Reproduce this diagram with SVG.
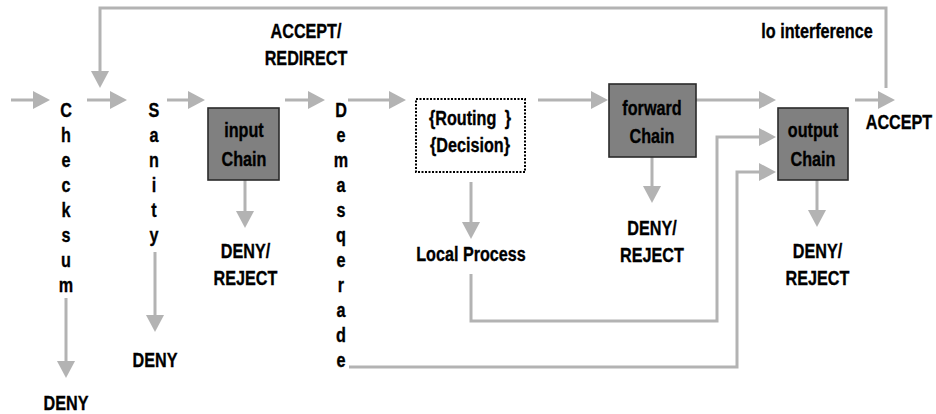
<svg xmlns="http://www.w3.org/2000/svg" width="936" height="414" viewBox="0 0 936 414">
<style>
.t{font-family:"Liberation Sans",Arial,sans-serif;font-weight:bold;font-size:21px;fill:#000;stroke:#000;stroke-width:0.35;text-anchor:middle}
.c{fill:none;stroke:#b3b3b3;stroke-width:3}
.box{fill:#808080;stroke:#2a2a2a;stroke-width:1.6}
.dot{fill:#fff;stroke:#000;stroke-width:2;stroke-dasharray:2 1.5}
</style>
<defs>
<marker id="ah" viewBox="0 0 17 18" refX="11" refY="9" markerWidth="17" markerHeight="18" markerUnits="userSpaceOnUse" orient="auto">
<path d="M0,0 L17,9 L0,18 z" fill="#b3b3b3"/>
</marker>
</defs>
<rect width="936" height="414" fill="#fff"/>
<g id="connectors">
<path class="c" d="M11,100 H44" marker-end="url(#ah)"/>
<path class="c" d="M87,100 H121" marker-end="url(#ah)"/>
<path class="c" d="M167,100 H199" marker-end="url(#ah)"/>
<path class="c" d="M285,100 H319" marker-end="url(#ah)"/>
<path class="c" d="M348,100 H400" marker-end="url(#ah)"/>
<path class="c" d="M538,100 H602" marker-end="url(#ah)"/>
<path class="c" d="M696,100 H770" marker-end="url(#ah)"/>
<path class="c" d="M855,100 H889" marker-end="url(#ah)"/>
<path class="c" d="M886,88 V8 H100 V82" marker-end="url(#ah)"/>
<path class="c" d="M245,180 V222" marker-end="url(#ah)"/>
<path class="c" d="M471,182 V233" marker-end="url(#ah)"/>
<path class="c" d="M652,157 V197" marker-end="url(#ah)"/>
<path class="c" d="M817,180 V221" marker-end="url(#ah)"/>
<path class="c" d="M66,298 V372" marker-end="url(#ah)"/>
<path class="c" d="M155,252 V326" marker-end="url(#ah)"/>
<path class="c" d="M471,274 V321 H717 V137 H770" marker-end="url(#ah)"/>
<path class="c" d="M349,367 H737 V172 H770" marker-end="url(#ah)"/>
</g>
<g id="checksum">
<text class="t" transform="translate(66 0) scale(0.77 1)"><tspan x="0" y="117">C</tspan><tspan x="0" y="142">h</tspan><tspan x="0" y="167">e</tspan><tspan x="0" y="192">c</tspan><tspan x="0" y="217">k</tspan><tspan x="0" y="242">s</tspan><tspan x="0" y="267">u</tspan><tspan x="0" y="292">m</tspan></text>
</g>
<g id="checksum-deny">
<text class="t" transform="translate(66 410) scale(0.77 1)">DENY</text>
</g>
<g id="sanity">
<text class="t" transform="translate(154 0) scale(0.77 1)"><tspan x="0" y="117">S</tspan><tspan x="0" y="142">a</tspan><tspan x="0" y="167">n</tspan><tspan x="0" y="192">i</tspan><tspan x="0" y="217">t</tspan><tspan x="0" y="242">y</tspan></text>
</g>
<g id="sanity-deny">
<text class="t" transform="translate(155 367) scale(0.77 1)">DENY</text>
</g>
<g id="input-chain">
<rect class="box" x="208" y="108" width="71" height="72"/>
<text class="t" transform="translate(244 0) scale(0.77 1)"><tspan x="0" y="137">input</tspan><tspan x="0" y="166">Chain</tspan></text>
</g>
<g id="input-deny">
<text class="t" transform="translate(245.5 0) scale(0.77 1)"><tspan x="0" y="258">DENY/</tspan><tspan x="0" y="285">REJECT</tspan></text>
</g>
<g id="accept-redirect">
<text class="t" transform="translate(306 0) scale(0.77 1)"><tspan x="0" y="38">ACCEPT/</tspan><tspan x="0" y="65">REDIRECT</tspan></text>
</g>
<g id="demasquerade">
<text class="t" transform="translate(341 0) scale(0.77 1)"><tspan x="0" y="117">D</tspan><tspan x="0" y="142">e</tspan><tspan x="0" y="167">m</tspan><tspan x="0" y="192">a</tspan><tspan x="0" y="217">s</tspan><tspan x="0" y="242">q</tspan><tspan x="0" y="267">e</tspan><tspan x="0" y="292">r</tspan><tspan x="0" y="317">a</tspan><tspan x="0" y="342">d</tspan><tspan x="0" y="367">e</tspan></text>
</g>
<g id="routing-decision">
<rect class="dot" x="416" y="99" width="109" height="73"/>
<text class="t" transform="translate(470 0) scale(0.77 1)"><tspan x="0" y="125">{Routing <tspan dx="5">}</tspan></tspan><tspan x="0" y="152">{Decision}</tspan></text>
</g>
<g id="local-process">
<text class="t" transform="translate(471 261) scale(0.77 1)">Local Process</text>
</g>
<g id="forward-chain">
<rect class="box" x="609" y="84" width="87" height="73"/>
<text class="t" transform="translate(652 0) scale(0.77 1)"><tspan x="0" y="115">forward</tspan><tspan x="0" y="143">Chain</tspan></text>
</g>
<g id="forward-deny">
<text class="t" transform="translate(652 0) scale(0.77 1)"><tspan x="0" y="235">DENY/</tspan><tspan x="0" y="262">REJECT</tspan></text>
</g>
<g id="output-chain">
<rect class="box" x="778" y="108" width="70" height="72"/>
<text class="t" transform="translate(813 0) scale(0.77 1)"><tspan x="0" y="137">output</tspan><tspan x="0" y="166">Chain</tspan></text>
</g>
<g id="output-deny">
<text class="t" transform="translate(817.5 0) scale(0.77 1)"><tspan x="0" y="258">DENY/</tspan><tspan x="0" y="285">REJECT</tspan></text>
</g>
<g id="lo-interference">
<text class="t" transform="translate(817 38) scale(0.77 1)">lo interference</text>
</g>
<g id="accept">
<text class="t" transform="translate(899 129) scale(0.77 1)">ACCEPT</text>
</g>
</svg>
